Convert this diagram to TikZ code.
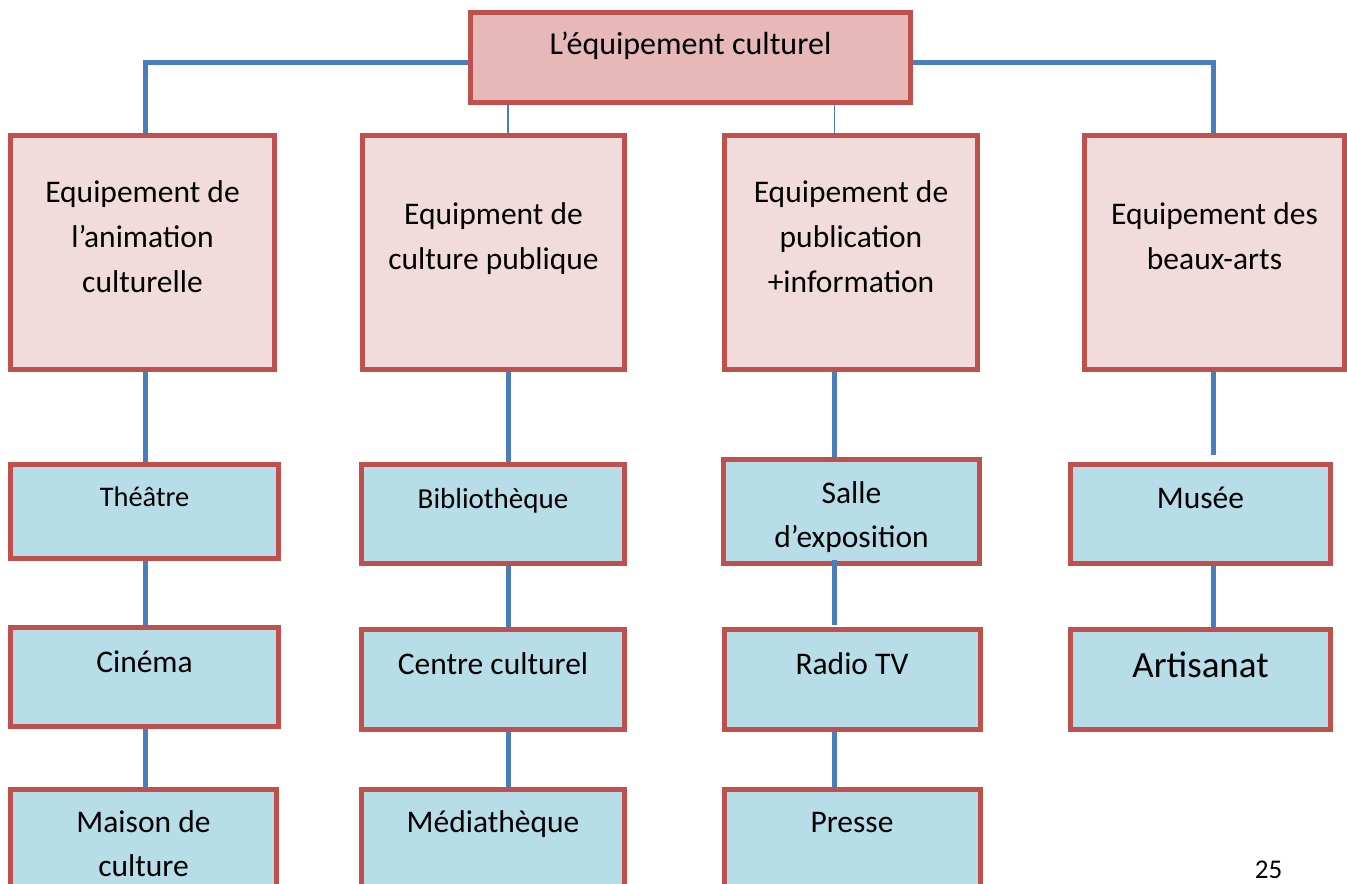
\documentclass[tikz,border=0pt]{standalone}
\usepackage{fontspec}
\setmainfont{Carlito}

\definecolor{boxred}{HTML}{C0504D}
\definecolor{headfill}{HTML}{E6B8B7}
\definecolor{catfill}{HTML}{F2DCDB}
\definecolor{itemfill}{HTML}{B7DDE8}
\definecolor{linkblue}{HTML}{4A7EBB}

\pgfdeclarelayer{bg}
\pgfsetlayers{bg,main}

\begin{document}
\begin{tikzpicture}[x=0.5pt,y=-0.5pt,
	box/.style={draw=boxred, line width=2.5pt, rectangle, inner sep=0pt,
		align=flush center, text width=120pt, text height=0pt},
	lift/.style={text depth=#1pt},
	head/.style={box, fill=headfill, text width=200pt, minimum width=220pt,
		minimum height=45pt, font=\fontsize{16}{22}\selectfont},
	cat/.style={box, fill=catfill, minimum height=117pt,
		font=\fontsize{15.75}{22.5}\selectfont},
	item/.style={box, fill=itemfill, minimum height=50pt,
		font=\fontsize{15.75}{22}\selectfont},
	link/.style={draw=linkblue, line width=2.5pt},
	thinlink/.style={draw=linkblue, line width=0.75pt}]

	\useasboundingbox (0,0) rectangle (1347,883);
	\clip (0,0) rectangle (1347,883);

	\node[head, lift=2.5] (equip) at (690.5,57.5) {L’équipement culturel};

	\node[cat, minimum width=132pt, lift=50] (anim) at (142.5,252) {Equipement de\\l’animation\\culturelle};
	\node[cat, minimum width=131pt, lift=28] (publ) at (493.5,252) {Equipment de\\culture publique};
	\node[cat, minimum width=126.5pt, lift=50] (pub) at (851,252) {Equipement de\\publication\\+information};
	\node[cat, minimum width=130pt, lift=28] (arts) at (1214.5,252) {Equipement des\\beaux-arts};

	\node[item, minimum width=134pt, minimum height=47pt, lift=5.5,
		font=\fontsize{14.2}{20}\selectfont] (theatre) at (144.5,511.5) {Théâtre};
	\node[item, minimum width=134pt, minimum height=49.5pt, lift=5] (cinema) at (144.5,677) {Cinéma};
	\node[item, minimum width=133pt, lift=7] (maison) at (143.5,839) {Maison de\\culture};

	\node[item, minimum width=131.5pt, minimum height=49.5pt, lift=6,
		font=\fontsize{14.5}{20}\selectfont] (biblio) at (493,514) {Bibliothèque};
	\node[item, minimum width=131.5pt, lift=5.5] (centre) at (493,679.5) {Centre culturel};
	\node[item, minimum width=131.5pt, lift=7] (media) at (493,839) {Médiathèque};

	\node[item, minimum width=128pt, minimum height=52pt, lift=8.5] (salle) at (851.5,511.5) {Salle\\d’exposition};
	\node[item, minimum width=128pt, lift=5.5] (radio) at (852,679.5) {Radio TV};
	\node[item, minimum width=128pt, lift=7] (presse) at (852,839) {Presse};

	\node[item, minimum width=130pt, minimum height=49.5pt, lift=6] (musee) at (1200.5,514) {Musée};
	\node[item, minimum width=130pt, lift=2.5,
		font=\fontsize{18.5}{24}\selectfont] (artisanat) at (1200.5,679.5) {Artisanat};

	\node[anchor=base, inner sep=0pt, font=\fontsize{13.5}{16}\selectfont] (page) at (1268.5,878) {25};

	\coordinate (c1) at (145.5,0);
	\coordinate (c2) at (508,0);
	\coordinate (c3) at (834.5,0);
	\coordinate (c4) at (1213.5,0);

	\begin{pgfonlayer}{bg}
	\draw[link] ([yshift=-2.5pt]equip.west) -| (anim.north -| c1);
	\draw[link] ([yshift=-2.5pt]equip.east) -| (arts.north -| c4);
	\draw[thinlink] (equip.south -| c2) -- (publ.north -| c2);
	\draw[thinlink] (equip.south -| c3) -- (pub.north -| c3);
	\foreach \a/\b/\c in {anim/theatre/c1, theatre/cinema/c1, cinema/maison/c1,
		publ/biblio/c2, biblio/centre/c2, centre/media/c2,
		pub/salle/c3, radio/presse/c3, musee/artisanat/c4}
		\draw[link] (\a.south -| \c) -- (\b.north -| \c);
	\draw[link, shorten >=3.75pt] (arts.south -| c4) -- (musee.north -| c4);
	\end{pgfonlayer}
	\draw[link] ([yshift=3.25pt]salle.south -| c3) -- ([yshift=1.25pt]radio.north -| c3);

\end{tikzpicture}
\end{document}
